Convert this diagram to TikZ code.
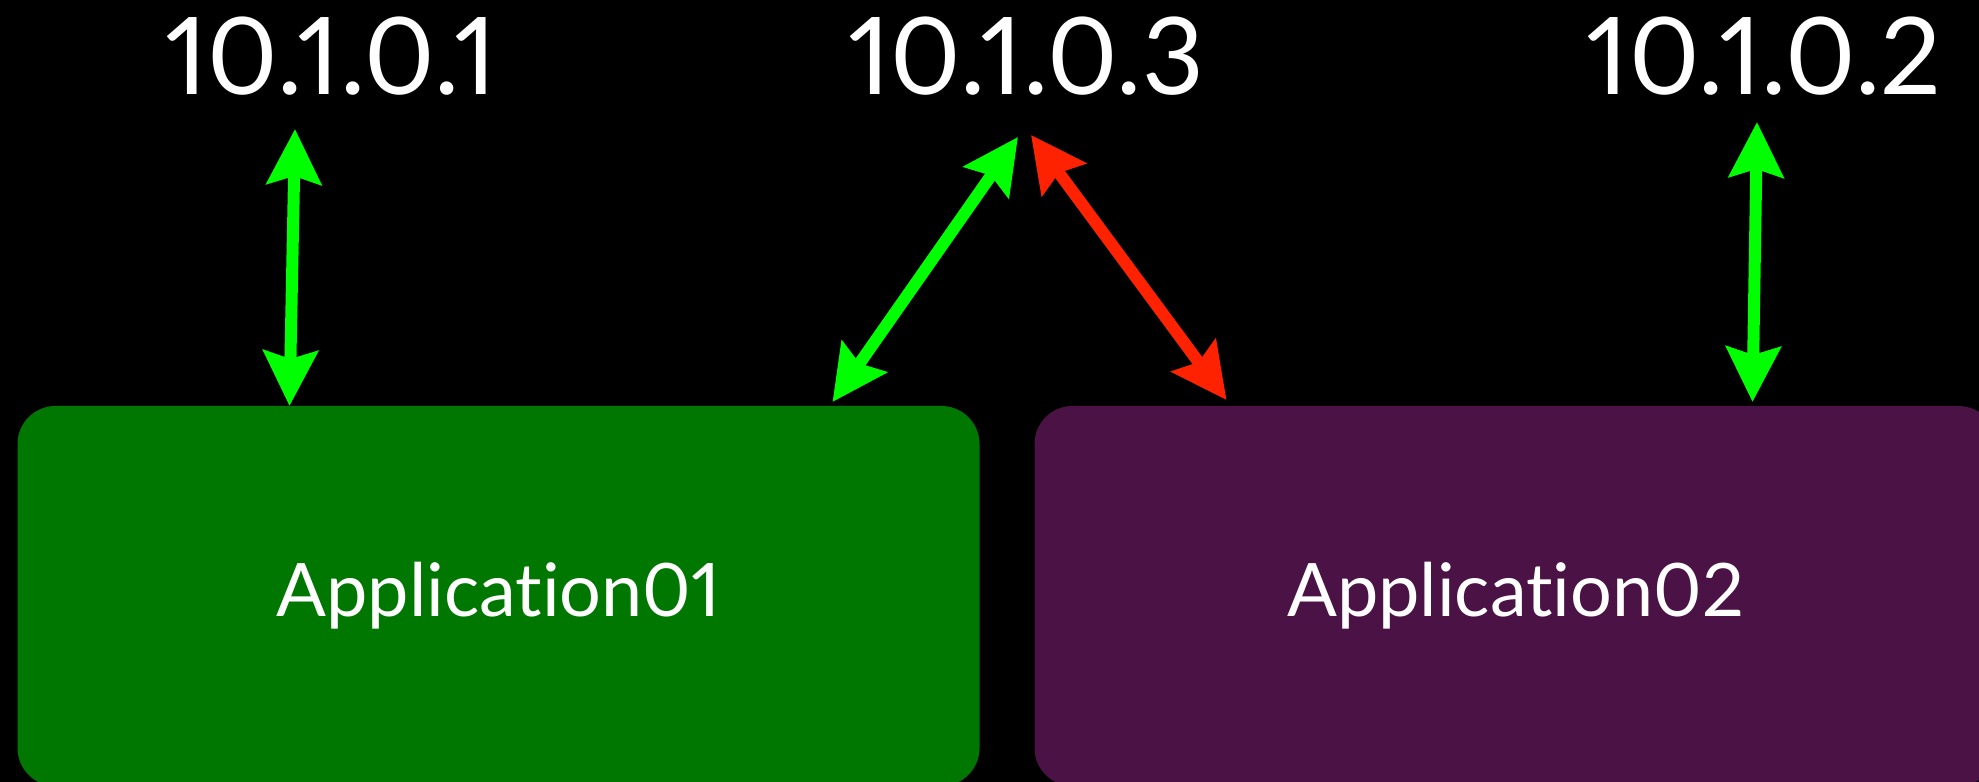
\documentclass[tikz,border=0pt]{standalone}
\usepackage{fontspec}
\setmainfont[Numbers=Proportional,Ligatures=NoCommon]{Lato}
\usepackage{tikz}
\usetikzlibrary{arrows.meta}
\usetikzlibrary{shapes}
\definecolor{appgreen}{HTML}{007700}
\definecolor{apppurple}{HTML}{4A1245}
\definecolor{linkgreen}{HTML}{00FF00}
\definecolor{linkred}{HTML}{FF2200}
\tikzstyle{app}=[rectangle,rounded corners=0.38cm,inner sep=0mm,minimum width=9.62cm,minimum height=3.8cm,text=white,font=\fontsize{21}{24}\selectfont]
\tikzstyle{ip}=[anchor=base,inner sep=0mm,text=white,font=\fontsize{30.5}{34}\selectfont]
\tikzstyle{link}=[<->,>={Stealth[length=0.55cm,width=0.54cm,inset=0.08cm]}]
\tikzset{every picture/.style={
    line width=0.12cm
  }
}

\begin{document}
\begin{tikzpicture}
      \fill[black] (0,0) rectangle (19.79,7.82);
      \useasboundingbox (0,0) rectangle (19.79,7.82);
      \node[app,fill=appgreen] at (4.985,1.86) (app1) {Application01};
      \node[app,fill=apppurple] at (15.155,1.86) (app2) {Application02};
      \node[ip] at (3.31,6.87) (ip1) {10.1.0.1};
      \node[ip] at (10.26,6.87) (ip3) {10.1.0.3};
      \node[ip] at (17.64,6.87) (ip2) {10.1.0.2};
      \draw[link,linkgreen] ([xshift=-0.36cm,yshift=-0.34cm]ip1.base)--([xshift=2.78cm,yshift=-0.06cm]app1.north west);
      \draw[link,linkgreen] ([xshift=-0.08cm,yshift=-0.42cm]ip3.base)--([xshift=-1.53cm,yshift=-0.02cm]app1.north east);
      \draw[link,linkred] ([xshift=0.05cm,yshift=-0.40cm]ip3.base)--([xshift=1.98cm,yshift=0.0cm]app2.north west);
      \draw[link,linkgreen] ([xshift=-0.07cm,yshift=-0.27cm]ip2.base)--([xshift=7.24cm,yshift=-0.02cm]app2.north west);
    \end{tikzpicture}
\end{document}
